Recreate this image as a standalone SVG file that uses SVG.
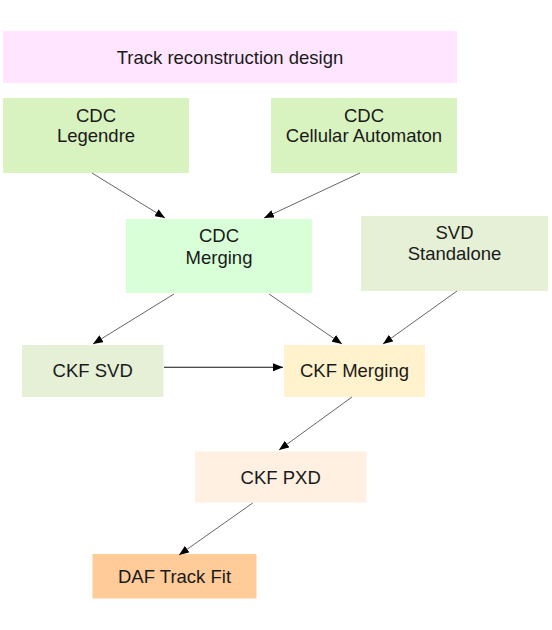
<svg xmlns="http://www.w3.org/2000/svg" width="552" height="630" viewBox="0 0 552 630">
<style>
text{font-family:"Liberation Sans",Arial,sans-serif;font-size:18.5px;fill:#1a1a1a;text-anchor:middle}
.e{stroke:#555;stroke-width:0.9;fill:none}
.h{stroke:#111;stroke-width:1.1;fill:none}
</style>
<defs>
<marker id="a" viewBox="0 0 10 8" refX="10" refY="4" markerWidth="10" markerHeight="8" markerUnits="userSpaceOnUse" orient="auto">
<path d="M0,0 L10,4 L0,8 z" fill="#000"/>
</marker>
</defs>
<rect width="552" height="630" fill="#fff"/>
<g id="title"><rect x="3" y="31" width="454" height="52" fill="#ffe5ff"/><text x="230" y="63.5">Track reconstruction design</text></g>
<g id="legendre"><rect x="3" y="98" width="186" height="75" fill="#d8f2c0"/><text x="96" y="121.7">CDC</text><text x="96" y="142.3">Legendre</text></g>
<g id="ca"><rect x="271" y="98" width="186" height="75" fill="#d8f2c0"/><text x="364" y="121.7">CDC</text><text x="364" y="142.3">Cellular Automaton</text></g>
<g id="cdcmerging"><rect x="126" y="219" width="186" height="74" fill="#d8ffd8"/><text x="219" y="242.3">CDC</text><text x="219" y="264.3">Merging</text></g>
<g id="svdstandalone"><rect x="361" y="216" width="187" height="75" fill="#e5f0d6"/><text x="454.5" y="239">SVD</text><text x="454.5" y="260.3">Standalone</text></g>
<g id="ckfsvd"><rect x="22" y="345" width="141.5" height="52" fill="#e5f0d6"/><text x="92.7" y="377.3">CKF SVD</text></g>
<g id="ckfmerging"><rect x="284" y="345" width="141" height="52" fill="#fff2cc"/><text x="354.5" y="377.3">CKF Merging</text></g>
<g id="ckfpxd"><rect x="195" y="451.5" width="171.5" height="51" fill="#fff0e2"/><text x="280.7" y="483.5">CKF PXD</text></g>
<g id="daf"><rect x="92.5" y="554" width="164" height="44.5" fill="#ffcc99"/><text x="174.5" y="582.5">DAF Track Fit</text></g>
<g id="connectors">
<line class="e" x1="92" y1="173" x2="165" y2="218" marker-end="url(#a)"/>
<line class="e" x1="360" y1="173" x2="264" y2="218" marker-end="url(#a)"/>
<line class="e" x1="174" y1="294" x2="93" y2="344" marker-end="url(#a)"/>
<line class="e" x1="269" y1="294" x2="342" y2="344" marker-end="url(#a)"/>
<line class="e" x1="457" y1="291" x2="383" y2="344" marker-end="url(#a)"/>
<line class="h" x1="164" y1="367.3" x2="283" y2="367.3" marker-end="url(#a)"/>
<line class="e" x1="352" y1="397" x2="279" y2="450" marker-end="url(#a)"/>
<line class="e" x1="252.7" y1="503" x2="179" y2="555" marker-end="url(#a)"/>
</g>
</svg>
